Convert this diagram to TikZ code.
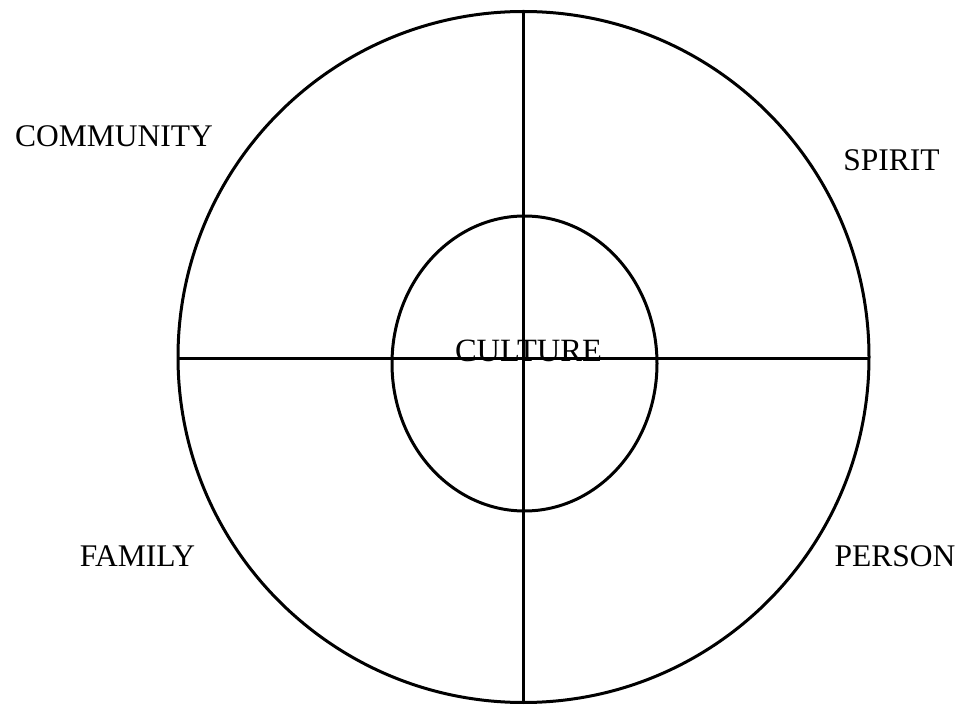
\documentclass[tikz,border=0pt]{standalone}
\usepackage{fontspec}
\setmainfont{Liberation Serif}
\usetikzlibrary{shapes.geometric}
\begin{document}
\begin{tikzpicture}[x=1pt,y=-1pt,
  ring/.style={draw=black, line width=3pt, inner sep=0pt, outer sep=0pt},
  lbl/.style={anchor=base, inner sep=0pt, font=\fontsize{31.5}{36}\selectfont},
  axis/.style={line width=3pt, draw=black}]
\useasboundingbox (0,0) rectangle (962,708);
\node[ring, circle, minimum size=691pt] (outer) at (523.5,357) {};
\node[ring, ellipse, minimum width=265pt, minimum height=295pt] (inner) at (524.5,363.5) {};
\node[lbl, font=\fontsize{32.5}{36}\selectfont] (culture) at (528.5,362) {CULTURE};
\coordinate (hw) at ([yshift=-1.5pt]outer.west);
\coordinate (he) at ([yshift=-1.5pt]outer.east);
\draw[axis] (hw) -- (he);
\draw[axis] (outer.north) -- (outer.south);
\node[lbl] (community) at (114,147) {COMMUNITY};
\node[lbl] (spirit) at (891.5,171) {SPIRIT};
\node[lbl] (family) at (137.5,567) {FAMILY};
\node[lbl] (person) at (895,567) {PERSON};
\end{tikzpicture}
\end{document}
